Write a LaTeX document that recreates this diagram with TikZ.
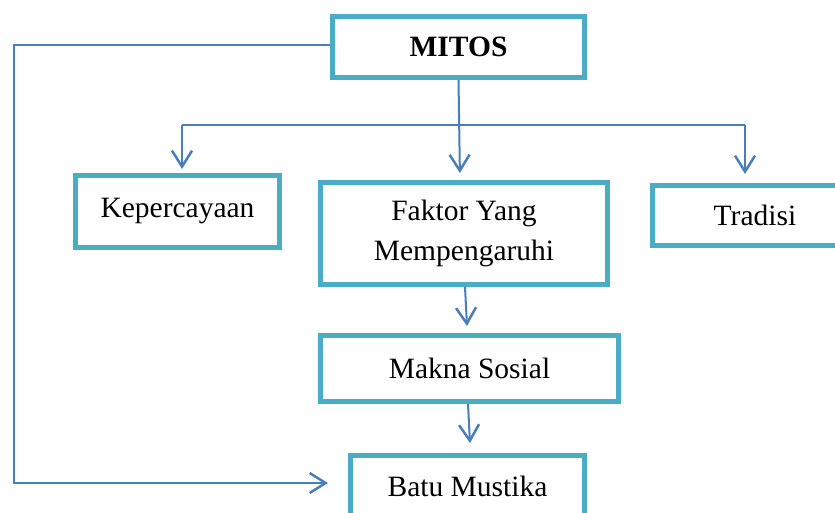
\documentclass[tikz,border=0pt]{standalone}
\usepackage{fontspec}
\setmainfont{Liberation Serif}
\usetikzlibrary{arrows.meta,calc}
\definecolor{boxc}{HTML}{4BACC6}
\definecolor{linec}{HTML}{4A7EBB}
\begin{document}
\begin{tikzpicture}[x=1pt,y=-1pt,
  box/.style={draw=boxc,line width=5pt,fill=white,rectangle,inner sep=0pt,
    font=\fontsize{29.5}{40}\selectfont,align=center},
  conn/.style={draw=linec,line width=2pt},
  arr/.style={conn,-{Straight Barb[length=16pt,width=20pt,line width=2.5pt]}}]
\useasboundingbox (0,0) rectangle (835,513);
\node[box,minimum width=252pt,minimum height=61pt,font=\fontsize{29.5}{40}\selectfont\bfseries] (mitos) at (458.5,47) {MITOS};
\node[box,minimum width=204pt,minimum height=72pt] (kep) at (177.5,211.5) {Kepercayaan};
\node[box,minimum width=287pt,minimum height=102pt] (fak) at (464,233.5) {Faktor Yang\\Mempengaruhi};
\node[box,minimum width=205pt,minimum height=60pt] (trad) at (755,215.5) {Tradisi};
\node[box,minimum width=298pt,minimum height=66pt] (makna) at (469.5,368.5) {Makna Sosial};
\node[box,minimum width=234pt,minimum height=61pt] (batu) at (467.5,486) {Batu Mustika};
\coordinate (bl) at (182,125);
\coordinate (br) at (745,125);
\coordinate (lc1) at (14,45);
\coordinate (lc2) at (14,483);
\coordinate (lt) at (328,483);
\draw[conn] (bl) -- (br);
\draw[arr,shorten >=4pt] (bl) -- (bl |- kep.north);
\draw[arr,shorten >=9pt] (br) -- (br |- trad.north);
\draw[arr,shorten >=7pt] (mitos.south) -- (460,180);
\draw[arr] (465,287) -- (467,326);
\draw[arr] (468,404) -- (470,443);
\draw[arr] (mitos.west |- lc1) -- (lc1) -- (lc2) -- (lt);
\end{tikzpicture}
\end{document}
